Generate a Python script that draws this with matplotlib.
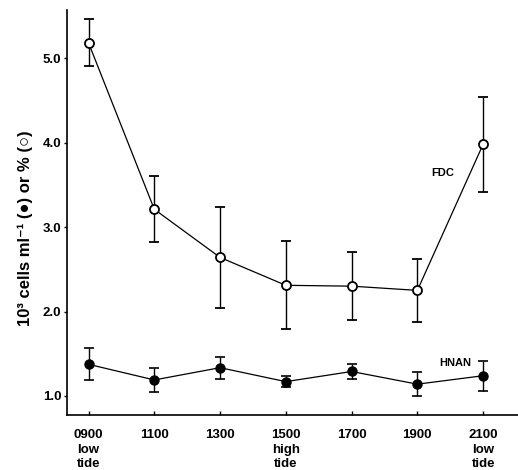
import matplotlib
matplotlib.use("Agg")
import matplotlib.pyplot as plt

plt.rcParams['font.family'] = ['Liberation Sans', 'DejaVu Sans']
plt.rcParams['font.weight'] = 'bold'

times = ['0900', '1100', '1300', '1500', '1700', '1900', '2100']
tide_notes = ['low\ntide', '', '', 'high\ntide', '', '', 'low\ntide']

# FDC (%), open circles
fdc = [5.18, 3.21, 2.64, 2.31, 2.30, 2.25, 3.98]
fdc_err = [0.28, 0.39, 0.60, 0.52, 0.40, 0.37, 0.56]

# HNAN (10^3 cells ml-1), filled circles
hnan = [1.375, 1.19, 1.335, 1.17, 1.29, 1.14, 1.24]
hnan_err = [0.19, 0.145, 0.13, 0.065, 0.09, 0.14, 0.18]

fig = plt.figure(figsize=(5.18, 4.70), dpi=100)
ax = fig.add_axes([0.129, 0.117, 0.871, 0.862])

x = list(range(len(times)))

ax.errorbar(x, fdc, yerr=fdc_err, fmt='-o', color='black', mfc='white',
            mec='black', mew=1.3, ms=6.5, lw=0.9, elinewidth=1.0,
            capsize=3.5, capthick=1.2)
ax.errorbar(x, hnan, yerr=hnan_err, fmt='-o', color='black', mfc='black',
            mec='black', ms=6.5, lw=0.9, elinewidth=1.0,
            capsize=3.5, capthick=1.2)

ax.text(5.39, 3.64, 'FDC', fontsize=8, fontweight='bold', ha='center', va='center')
ax.text(5.57, 1.39, 'HNAN', fontsize=8, fontweight='bold', ha='center', va='center')

ax.set_xlim(-0.33, 6.53)
ax.set_ylim(0.775, 5.57)

ax.set_xticks(x)
ax.set_xticklabels([t + ('\n' + n if n else '') for t, n in zip(times, tide_notes)],
                   fontsize=9.5, fontweight='bold', linespacing=1.3)
ax.set_yticks([1.0, 2.0, 3.0, 4.0, 5.0])
ax.set_yticklabels(['1.0', '2.0', '3.0', '4.0', '5.0'], fontsize=9.5, fontweight='bold')

ax.tick_params(axis='x', direction='in', length=3, width=1, pad=10)
ax.tick_params(axis='y', direction='out', length=2, width=1, pad=2)

ax.spines['top'].set_visible(False)
ax.spines['right'].set_visible(False)
ax.spines['left'].set_linewidth(1.2)
ax.spines['bottom'].set_linewidth(1.2)

ax.set_ylabel('10³ cells ml⁻¹ (●) or % (○)', fontsize=12, fontweight='bold',
              va='center')
ax.yaxis.set_label_coords(-0.093, 0.46)

fig.savefig('out.png', dpi=100)
